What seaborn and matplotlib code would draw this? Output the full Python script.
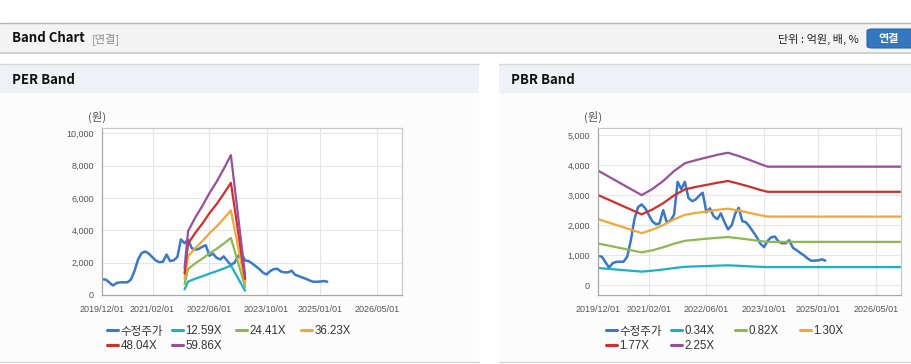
import matplotlib
matplotlib.use("Agg")
import matplotlib.pyplot as plt
from matplotlib.patches import Rectangle, FancyBboxPatch
from matplotlib.lines import Line2D
from matplotlib.legend import Legend
import seaborn as sns
import pandas as pd

# ---------------- data ----------------
price_start = "2019-12-01"
price = [975, 950, 760, 590, 740, 780, 785, 785, 950, 1500,
         2200, 2600, 2690, 2560, 2330, 2130, 2030, 2060, 2500, 2100,
         2150, 2350, 3440, 3200, 3440, 2900, 2800, 2850, 2980, 3080,
         2430, 2560, 2300, 2200, 2390, 2100, 1860, 2000, 2400, 2580,
         2130, 2100, 1950, 1780, 1600, 1380, 1270, 1480, 1600, 1620,
         1450, 1400, 1400, 1500, 1250, 1170, 1080, 1000, 900, 820,
         820, 830, 865, 820]

per_dates = ["2021-11-01", "2021-12-01", "2022-02-01", "2022-04-01", "2022-06-01",
             "2022-08-01", "2022-10-01", "2022-12-01", "2023-04-01"]
per_labels = ["12.59X", "24.41X", "36.23X", "48.04X", "59.86X"]
per_1259 = [350, 830, 1010, 1155, 1325, 1470, 1640, 1820, 260]
per_2441 = [680, 1610, 1960, 2245, 2570, 2855, 3180, 3530, 505]
per_3623 = [1005, 2390, 2905, 3330, 3815, 4235, 4720, 5235, 750]
per_4804 = [1330, 3170, 3850, 4410, 5060, 5620, 6260, 6940, 990]
per_5986 = [1660, 3950, 4800, 5500, 6300, 7000, 7800, 8650, 1235]

pbr_dates = ["2019-12-01", "2020-12-01", "2021-03-01", "2021-06-01", "2021-09-01",
             "2021-12-01", "2022-03-01", "2022-06-01", "2022-09-01", "2022-12-01",
             "2023-03-01", "2023-06-01", "2023-09-01", "2023-11-01", "2026-12-01"]
pbr_labels = ["0.34X", "0.82X", "1.30X", "1.77X", "2.25X"]
pbr_034 = [575, 455, 485, 525, 575, 615, 630, 640, 655, 665, 650, 630, 615, 605, 605]
pbr_082 = [1390, 1095, 1165, 1265, 1385, 1480, 1515, 1550, 1580, 1605, 1565, 1520, 1470, 1445, 1445]
pbr_130 = [2200, 1735, 1850, 2005, 2195, 2345, 2405, 2455, 2510, 2550, 2485, 2410, 2330, 2285, 2285]
pbr_177 = [3000, 2360, 2520, 2730, 2990, 3190, 3270, 3340, 3410, 3470, 3380, 3280, 3170, 3110, 3110]
pbr_225 = [3810, 3000, 3200, 3470, 3800, 4060, 4160, 4250, 4340, 4410, 4300, 4170, 4030, 3945, 3945]

price_label = "수정주가"
xtick_dates = ["2019-12-01", "2021-02-01", "2022-06-01", "2023-10-01", "2025-01-01", "2026-05-01"]
xlim_dates = ["2019-12-01", "2026-12-01"]
per_yticks = [0, 2000, 4000, 6000, 8000, 10000]
pbr_yticks = [0, 1000, 2000, 3000, 4000, 5000]

colors = ["#3a78c9", "#1cb0c6", "#8cb850", "#f4a636", "#d12f2c", "#9a4f9d"]

# ---------------- style ----------------
sns.set_style("white")
plt.rcParams["font.family"] = ["Liberation Sans", "Noto Sans CJK KR", "DejaVu Sans"]

W, H = 912, 364
fig = plt.figure(figsize=(W / 100, H / 100), dpi=100)
fig.patch.set_facecolor("white")


def rect(x0, y0, x1, y1, color):
    fig.patches.append(Rectangle((x0 / W, 1 - y1 / H), (x1 - x0) / W, (y1 - y0) / H,
                                 transform=fig.transFigure, facecolor=color,
                                 edgecolor="none", zorder=-5))


def hline(x0, x1, y, color, lw=1.0):
    fig.add_artist(Line2D([x0 / W, x1 / W], [1 - y / H, 1 - y / H],
                          transform=fig.transFigure, color=color, lw=lw, zorder=-4))


def ftext(x, y, s, **kw):
    fig.text(x / W, 1 - y / H, s, **kw)


cjk = ["Noto Sans CJK KR", "DejaVu Sans"]

# header bar
rect(0, 23, W, 53, "#f4f4f4")
hline(0, W, 22.5, "#b5b5b5", 1.0)
hline(0, W, 53, "#c9c9c9", 1.2)
ftext(12, 38.5, "Band Chart", fontsize=9.5, fontweight="bold", family=cjk,
      va="center", ha="left", color="#111111")
ftext(92, 39, "[연결]", fontsize=8, family=cjk, va="center", ha="left", color="#8a8a8a")
ftext(859, 39, "단위 : 억원, 배, %", fontsize=8, family=cjk, va="center", ha="right",
      color="#222222")
fig.patches.append(FancyBboxPatch((867 / W, 1 - 48 / H), 50 / W, 19 / H,
                                  boxstyle="round,pad=0,rounding_size=0.006",
                                  transform=fig.transFigure, facecolor="#3577bf",
                                  edgecolor="#2a66a8", lw=0.8, zorder=-3))
ftext(889, 38.5, "연결", fontsize=8, fontweight="bold", family=cjk, va="center",
      ha="center", color="white")

# panels
for (x0, x1, title) in [(0, 479, "PER Band"), (499, W, "PBR Band")]:
    rect(x0, 64, x1, 93, "#eef1f6")
    rect(x0, 93, x1, 362, "#fcfcfd")
    hline(x0, x1, 64, "#d8d8d8", 1.0)
    hline(x0, x1, 362, "#d8d8d8", 1.0)
    ftext(x0 + 12, 80, title, fontsize=9.5, fontweight="bold", family=cjk,
          va="center", ha="left", color="#111111")


def make_axes(x0, y0, x1, y1):
    ax = fig.add_axes([x0 / W, 1 - y1 / H, (x1 - x0) / W, (y1 - y0) / H])
    ax.set_zorder(2)
    return ax


def style_axes(ax, yticks, ylim):
    ax.set_facecolor("white")
    ax.set_xlim(pd.to_datetime(xlim_dates[0]), pd.to_datetime(xlim_dates[1]))
    ax.set_ylim(*ylim)
    ax.set_xticks(pd.to_datetime(xtick_dates))
    ax.set_xticklabels([d.replace("-", "/") for d in xtick_dates])
    ax.set_yticks(yticks)
    ax.set_yticklabels([f"{v:,}" for v in yticks])
    ax.grid(True, color="#e6e6e6", lw=0.8)
    ax.set_axisbelow(True)
    for s in ax.spines.values():
        s.set_color("#c8c8c8")
        s.set_linewidth(0.9)
    ax.spines["left"].set_color("#a8a8a8")
    ax.spines["bottom"].set_color("#a8a8a8")
    ax.tick_params(axis="both", labelsize=6.5, colors="#a8a8a8", labelcolor="#555555",
                   length=4, width=0.8, pad=2, direction="out")
    ax.tick_params(axis="x", pad=3)
    ax.set_xlabel("")
    ax.set_ylabel("")


price_df = pd.DataFrame({"date": pd.date_range(price_start, periods=len(price), freq="MS"),
                         "value": price})

# ----- PER -----
ax1 = make_axes(102.3, 128.3, 402.3, 295)
per_d = pd.to_datetime(per_dates)
sns.lineplot(data=price_df, x="date", y="value", ax=ax1, color=colors[0], lw=1.8,
             label=price_label, legend=False)
for lab, vals, c in zip(per_labels, [per_1259, per_2441, per_3623, per_4804, per_5986],
                        colors[1:]):
    sns.lineplot(x=per_d, y=vals, ax=ax1, color=c, lw=1.6, label=lab, legend=False)
style_axes(ax1, per_yticks, (0, 10310))

# ----- PBR -----
ax2 = make_axes(598.3, 128.3, 901, 295)
pbr_d = pd.to_datetime(pbr_dates)
sns.lineplot(data=price_df, x="date", y="value", ax=ax2, color=colors[0], lw=1.8,
             label=price_label, legend=False)
for lab, vals, c in zip(pbr_labels, [pbr_034, pbr_082, pbr_130, pbr_177, pbr_225],
                        colors[1:]):
    sns.lineplot(x=pbr_d, y=vals, ax=ax2, color=c, lw=1.6, label=lab, legend=False)
style_axes(ax2, pbr_yticks, (-322, 5222))

# unit labels
ftext(97, 117, "(원)", fontsize=8.2, family=cjk, va="center", ha="center", color="#555555")
ftext(593, 117, "(원)", fontsize=8.2, family=cjk, va="center", ha="center", color="#555555")

# legends: row-major layout with fixed-width columns (4 per row)
col_offsets = [0, 65, 129, 194]
columns = [[0, 4], [1, 5], [2], [3]]
for ax, lx in [(ax1, 107), (ax2, 606)]:
    lines = ax.get_lines()
    for off, idx in zip(col_offsets, columns):
        hs = [lines[i] for i in idx]
        ls = [lines[i].get_label() for i in idx]
        leg = Legend(ax, hs, ls, ncol=1, loc="upper left",
                     bbox_to_anchor=((lx + off) / W, 1 - 325.5 / H),
                     bbox_transform=fig.transFigure,
                     frameon=False, fontsize=8.3, handlelength=0.95, handletextpad=0.2,
                     borderpad=0, borderaxespad=0, labelspacing=0.18)
        for t in leg.get_texts():
            t.set_color("#333333")
        for ln in leg.get_lines():
            ln.set_linewidth(2.2)
        ax.add_artist(leg)

fig.savefig("out.png", dpi=100, facecolor="white")
